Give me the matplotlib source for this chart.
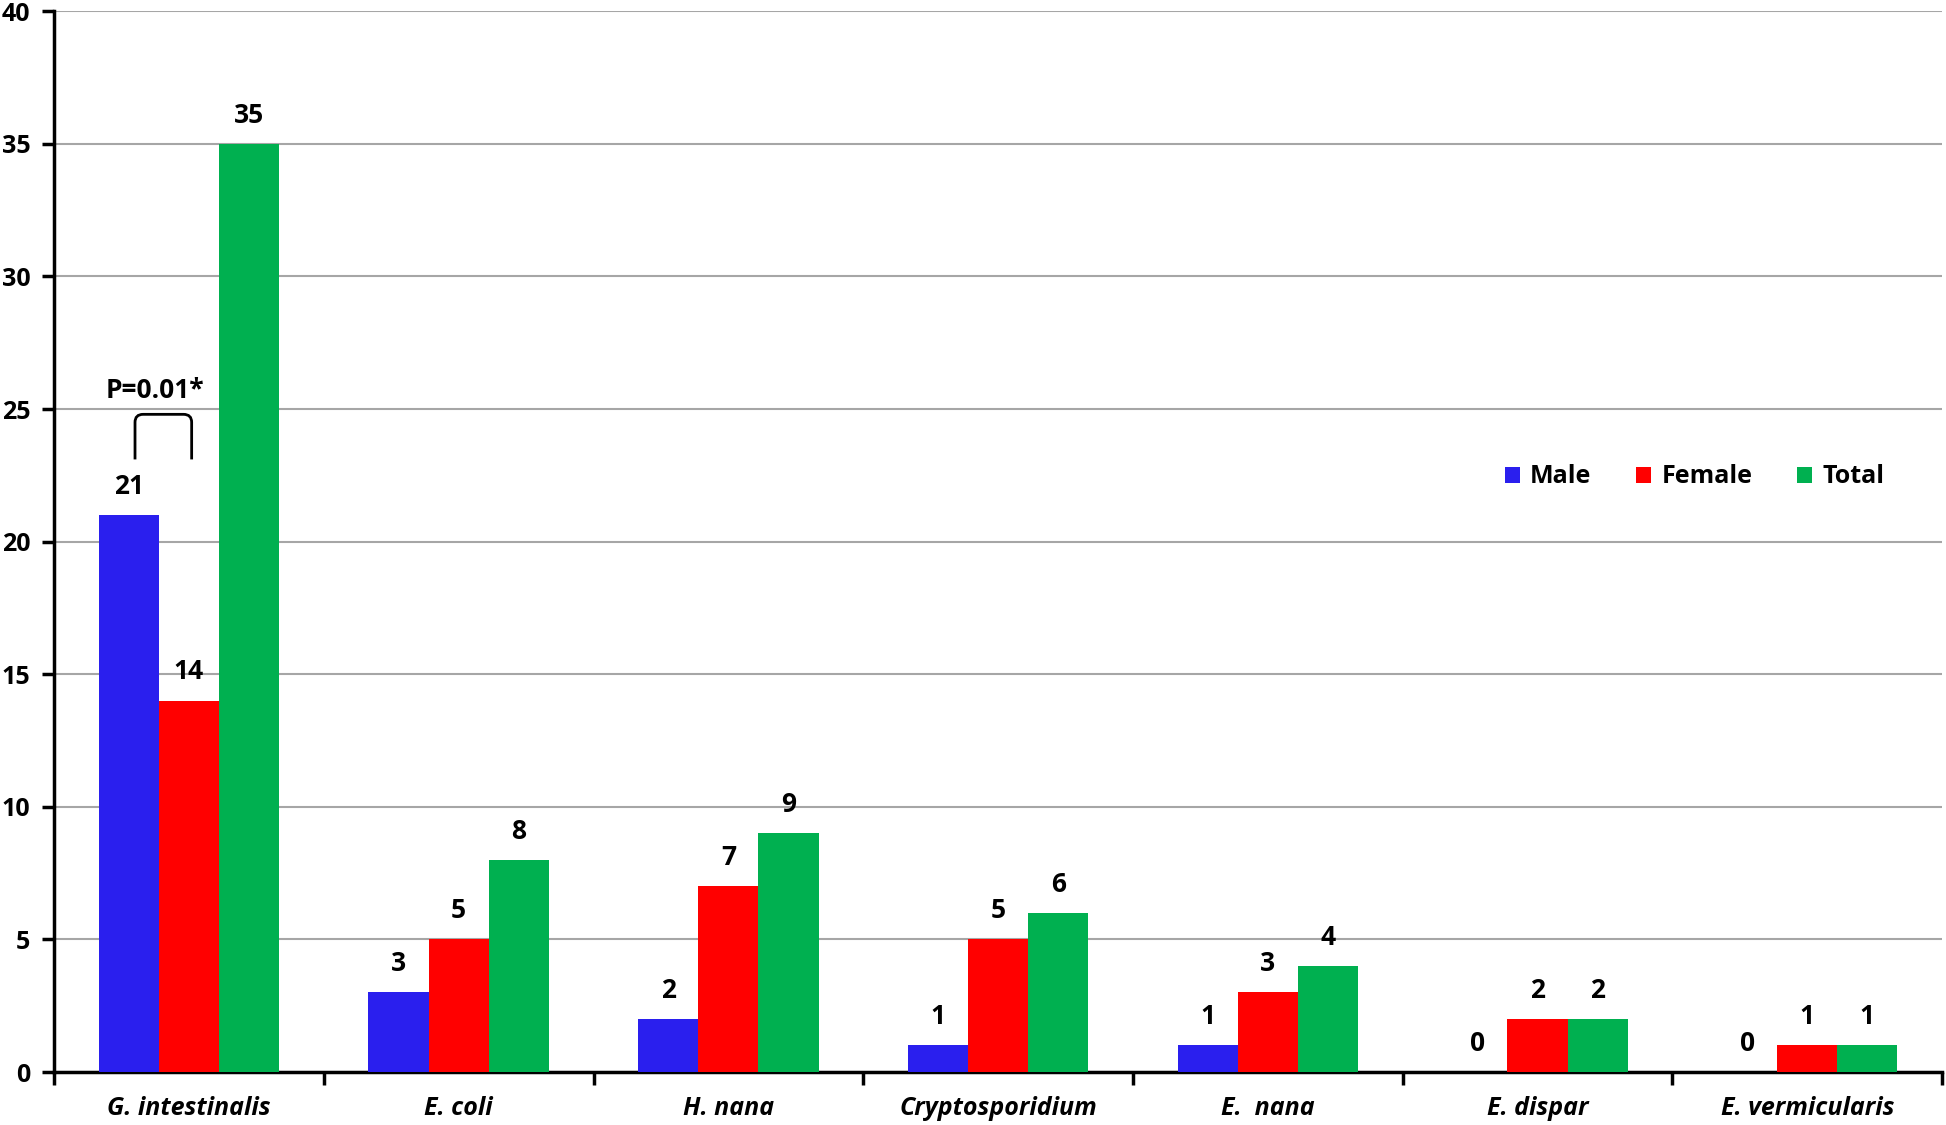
import numpy as np
import matplotlib.pyplot as plt
from matplotlib.path import Path
from matplotlib.patches import PathPatch

categories = ['G. intestinalis', 'E. coli', 'H. nana', 'Cryptosporidium',
              'E.  nana', 'E. dispar', 'E. vermicularis']
male = [21, 3, 2, 1, 1, 0, 0]
female = [14, 5, 7, 5, 3, 2, 1]
total = [35, 8, 9, 6, 4, 2, 1]
series_names = ['Male', 'Female', 'Total']
colors = ['#2A1FEE', '#FF0000', '#00B050']

plt.rcParams['font.family'] = ['Open Sans', 'DejaVu Sans']
plt.rcParams['font.weight'] = 'bold'

fig = plt.figure(figsize=(19.46, 11.25), dpi=100)
ax = fig.add_axes([0.0278, 0.0471, 0.9702, 0.9429])

x = np.arange(len(categories))
w = 0.223
for i, (vals, name, c) in enumerate(zip([male, female, total], series_names, colors)):
    xs = x + (i - 1) * w
    ax.bar(xs, vals, width=w, color=c, label=name, zorder=3)
    for xi, v in zip(xs, vals):
        ax.annotate(str(v), (xi, v), xytext=(0, 11), textcoords='offset points',
                    ha='center', va='bottom', fontsize=19, fontweight='bold')

# significance bracket between male and female of first group (rounded corners)
bx0, bx1, by0, by1 = -0.2, 0.01, 23.1, 24.8
rx, ry = 0.03, 0.3
verts = [(bx0, by0), (bx0, by1 - ry), (bx0, by1), (bx0 + rx, by1),
         (bx1 - rx, by1), (bx1, by1), (bx1, by1 - ry), (bx1, by0)]
codes = [Path.MOVETO, Path.LINETO, Path.CURVE3, Path.CURVE3,
         Path.LINETO, Path.CURVE3, Path.CURVE3, Path.LINETO]
ax.add_patch(PathPatch(Path(verts, codes), fill=False, lw=2, color='black', zorder=4))
ax.text(-0.126, 25.2, 'P=0.01*', ha='center', va='bottom', fontsize=19,
        fontweight='bold')

ax.set_xlim(-0.5, len(categories) - 0.5)
ax.set_ylim(0, 40)
ax.set_yticks(np.arange(0, 41, 5))
ax.set_xticks(np.arange(-0.5, len(categories), 1.0))
ax.set_xticklabels([])
ax.set_xticks(x, minor=True)
ax.set_xticklabels(categories, minor=True, style='italic', fontweight='bold',
                   fontsize=18)
ax.tick_params(axis='x', which='minor', length=0, pad=17)
ax.tick_params(axis='x', which='major', length=9, width=2.5, direction='out')
ax.tick_params(axis='y', length=9, width=2.5, direction='out', labelsize=18, pad=8)
for lab in ax.get_yticklabels():
    lab.set_fontweight('bold')

ax.grid(axis='y', color='#A6A6A6', lw=1.5, zorder=0)
ax.set_axisbelow(True)
for s in ['top', 'right']:
    ax.spines[s].set_visible(False)
for s in ['left', 'bottom']:
    ax.spines[s].set_linewidth(2.5)

ax.legend(loc='center', bbox_to_anchor=(0.869, 0.561), ncol=3, frameon=False,
          fontsize=18, handlelength=0.6, handleheight=0.6, columnspacing=1.8,
          handletextpad=0.4)

fig.savefig('out.png', dpi=100)
